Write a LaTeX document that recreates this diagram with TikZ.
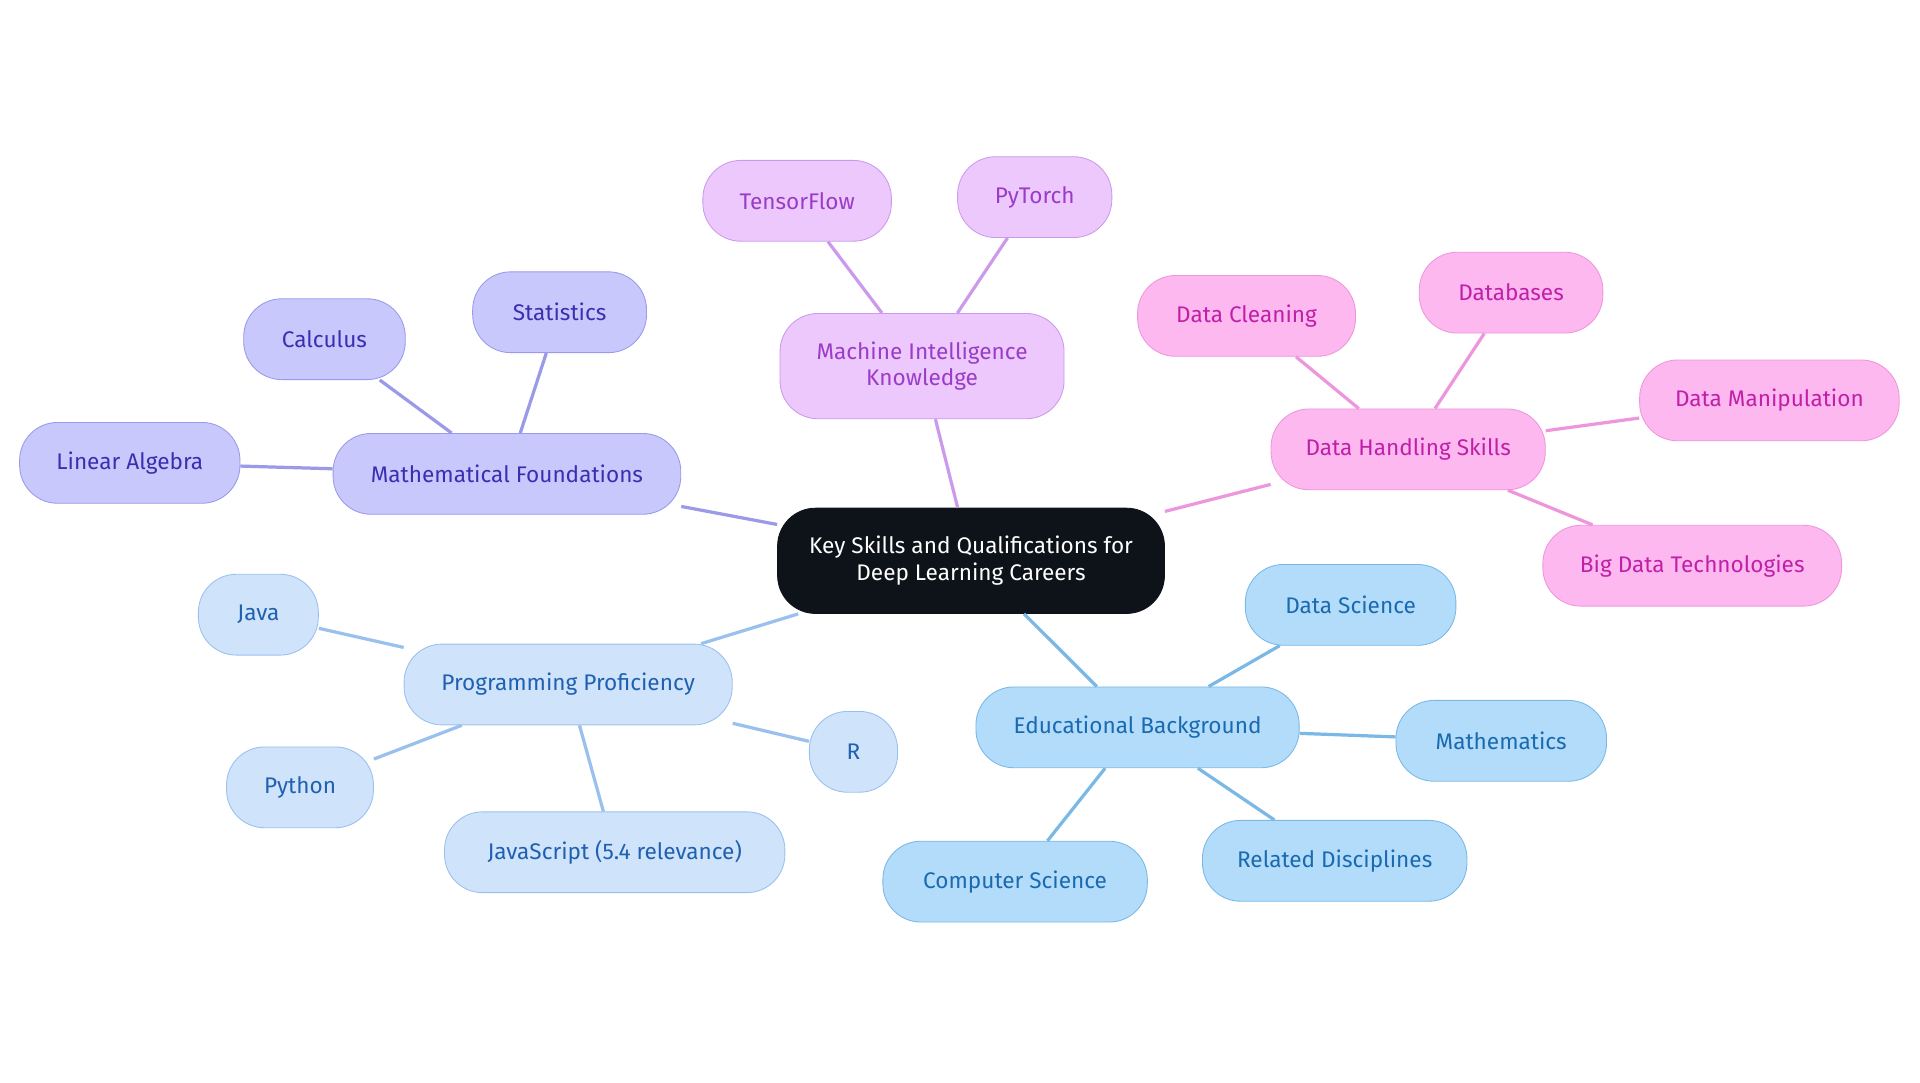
\documentclass[tikz,border=0pt]{standalone}
\usepackage{fontspec}
\setmainfont{Fira Sans}
\usetikzlibrary{positioning}
\definecolor{rootfill}{HTML}{0D1319}
\definecolor{mathfill}{HTML}{C8C8FC}\definecolor{mathline}{HTML}{9A9AE8}\definecolor{mathtext}{HTML}{3A2FB0}
\definecolor{mikfill}{HTML}{ECC8FC}\definecolor{mikline}{HTML}{CC9AEC}\definecolor{miktext}{HTML}{9A3CC8}
\definecolor{datafill}{HTML}{FDB8F0}\definecolor{dataline}{HTML}{EE96DC}\definecolor{datatext}{HTML}{C020A8}
\definecolor{progfill}{HTML}{CFE3FB}\definecolor{progline}{HTML}{9AC0EE}\definecolor{progtext}{HTML}{2060B0}
\definecolor{edufill}{HTML}{B3DCFB}\definecolor{eduline}{HTML}{7AB8E6}\definecolor{edutext}{HTML}{1A6AB0}
\tikzset{
    pill/.style = {draw, rectangle, rounded corners=0.62cm, minimum height=1.32cm, inner sep=0em,
      align=center, font=\fontsize{10.5}{12.5}\selectfont},
    mathnode/.style = {pill, fill=mathfill, draw=mathline, text=mathtext},
    miknode/.style = {pill, fill=mikfill, draw=mikline, text=miktext},
    datanode/.style = {pill, fill=datafill, draw=dataline, text=datatext},
    prognode/.style = {pill, fill=progfill, draw=progline, text=progtext},
    edunode/.style = {pill, fill=edufill, draw=eduline, text=edutext},
    link/.style = {line width=1.5pt}
}
\begin{document}
\begin{tikzpicture}[x=0.02cm, y=-0.02cm]
\useasboundingbox (0,0) rectangle (1568,884);

\node[pill, name=root, fill=rootfill, draw=rootfill, text=white, minimum width=6.32cm, minimum height=1.72cm] at (793,458) {Key Skills and Qualifications for\\Deep Learning Careers};

% mathematics branch
\node[mathnode, name=math, minimum width=5.68cm] at (414,387) {Mathematical Foundations};
\node[mathnode, name=linalg, minimum width=3.6cm] at (106,378) {Linear Algebra};
\node[mathnode, name=calc, minimum width=2.64cm] at (265,277) {Calculus};
\node[mathnode, name=stats, minimum width=2.84cm] at (457,255) {Statistics};

% machine intelligence branch
\node[miknode, name=mik, minimum width=4.64cm, minimum height=1.72cm] at (753,299) {Machine Intelligence\\Knowledge};
\node[miknode, name=tf, minimum width=3.08cm] at (651,164) {TensorFlow};
\node[miknode, name=torch, minimum width=2.52cm] at (845,161) {PyTorch};

% data branch
\node[datanode, name=data, minimum width=4.48cm] at (1150,367) {Data Handling Skills};
\node[datanode, name=clean, minimum width=3.56cm] at (1018,258) {Data Cleaning};
\node[datanode, name=db, minimum width=3.0cm] at (1234,239) {Databases};
\node[datanode, name=manip, minimum width=4.24cm] at (1445,327) {Data Manipulation};
\node[datanode, name=bigdata, minimum width=4.88cm] at (1382,462) {Big Data Technologies};

% programming branch
\node[prognode, name=prog, minimum width=5.36cm] at (464,559) {Programming Proficiency};
\node[prognode, name=java, minimum width=1.96cm] at (211,502) {Java};
\node[prognode, name=python, minimum width=2.4cm] at (245,643) {Python};
\node[prognode, name=js, minimum width=5.56cm] at (502,696) {JavaScript (5.4 relevance)};
\node[prognode, name=rlang, minimum width=1.44cm] at (697,614) {R};

% education branch
\node[edunode, name=edu, minimum width=5.28cm] at (929,594) {Educational Background};
\node[edunode, name=dsci, minimum width=3.44cm] at (1103,494) {Data Science};
\node[edunode, name=maths, minimum width=3.44cm] at (1226,605) {Mathematics};
\node[edunode, name=related, minimum width=4.32cm] at (1090,703) {Related Disciplines};
\node[edunode, name=cs, minimum width=4.32cm] at (829,720) {Computer Science};

\draw[link, mathline] (root) -- (math);
\foreach \n in {linalg, calc, stats} \draw[link, mathline] (math) -- (\n);
\draw[link, mikline] (root) -- (mik);
\foreach \n in {tf, torch} \draw[link, mikline] (mik) -- (\n);
\draw[link, dataline] (root) -- (data);
\foreach \n in {clean, db, manip, bigdata} \draw[link, dataline] (data) -- (\n);
\draw[link, progline] (root) -- (prog);
\foreach \n in {java, python, js, rlang} \draw[link, progline] (prog) -- (\n);
\draw[link, eduline] (root) -- (edu);
\foreach \n in {dsci, maths, related, cs} \draw[link, eduline] (edu) -- (\n);
\end{tikzpicture}
\end{document}
